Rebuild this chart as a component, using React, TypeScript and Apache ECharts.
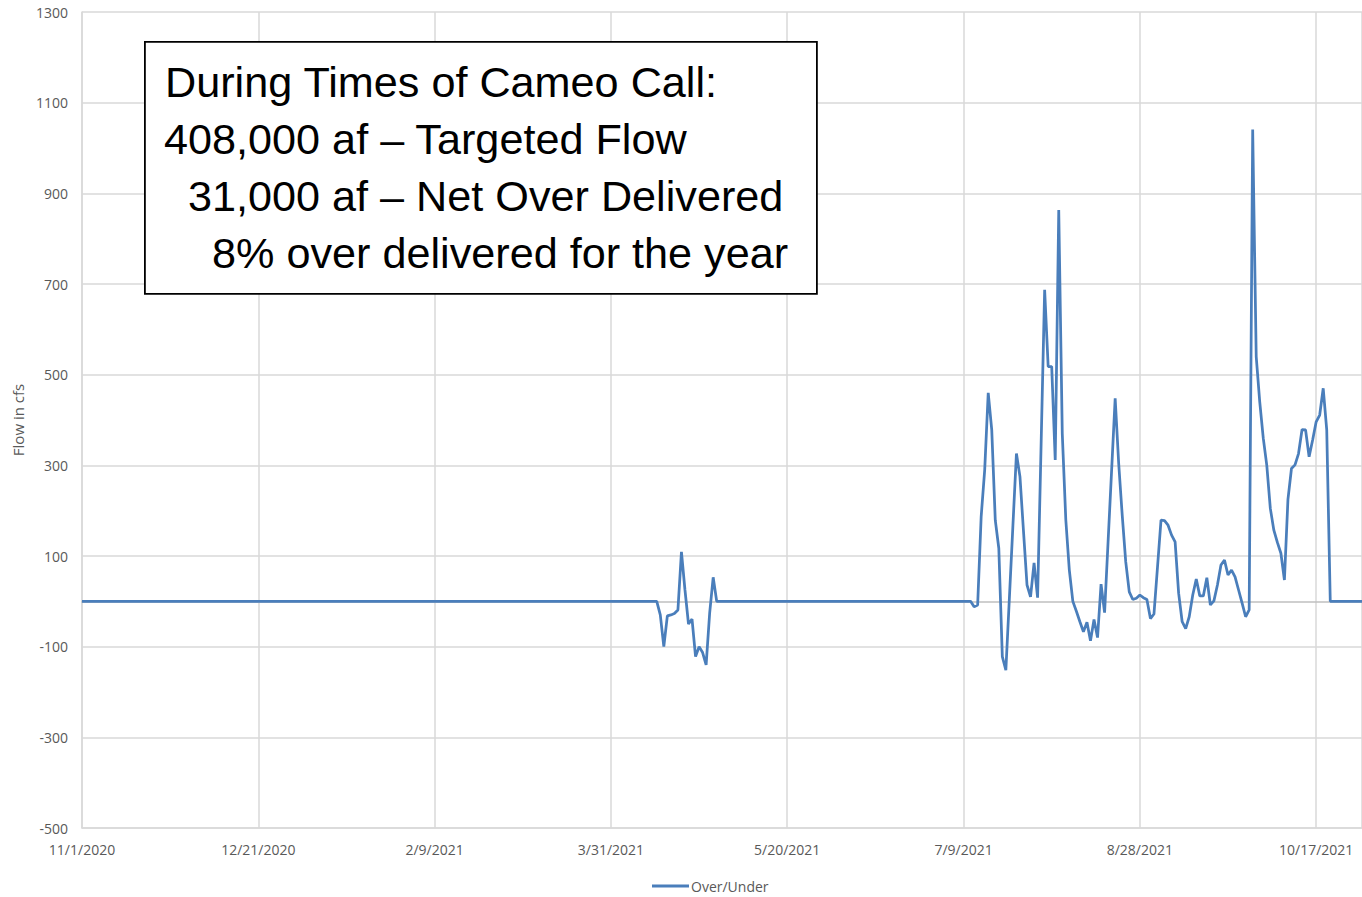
import React, { useEffect, useRef } from 'react';
import * as echarts from 'echarts';

// ---- Data ----
const START_DATE = '2020-11-01';
const END_DATE = '2021-10-30';
const X_TICK_STEP_DAYS = 50;
const Y_MIN = -500;
const Y_MAX = 1300;
const Y_STEP = 200;

const SERIES_NAME = 'Over/Under';
const Y_AXIS_NAME = 'Flow in cfs';

// daily values (cfs) from 2021-04-12
const SPRING_START = '2021-04-12';
const springValues = [
  0, 0, -30, -100, -32, -30, -27, -19, 109, 25, -50, -39, -122, -100, -113, -140, -26, 53, 0,
];

// daily values (cfs) from 2021-07-10
const SUMMER_START = '2021-07-10';
const summerValues = [
  0, 0, -12, -8, 187, 290, 460, 378, 179, 117,
  -122, -152, 7, 167, 326, 275, 155, 36, 10, 85,
  8, 347, 687, 518, 518, 312, 863, 370, 180, 69,
  0, -22, -45, -67, -46, -87, -40, -80, 38, -25,
  133, 290, 448, 304, 190, 87, 21, 4, 7, 14,
  8, 4, -38, -28, 75, 179, 178, 168, 146, 131,
  18, -45, -60, -34, 14, 49, 12, 12, 52, -8,
  1, 36, 80, 91, 58, 69, 54, 25, -4, -34,
  -19, 1041, 540, 440, 360, 300, 205, 157, 130, 106,
  47, 225, 293, 301, 326, 379, 378, 319, 356, 396,
  411, 470, 378, 0,
];

const NOTE_LINES = [
  'During Times of Cameo Call:',
  '408,000 af \u2013 Targeted Flow',
  '  31,000 af \u2013 Net Over Delivered',
  '    8% over delivered for the year',
];

// ---- helpers ----
const DAY_MS = 86400000;
const toUTC = (s: string) => {
  const [y, m, d] = s.split('-').map(Number);
  return Date.UTC(y, m - 1, d);
};
const startMs = toUTC(START_DATE);
const dayIndex = (s: string) => Math.round((toUTC(s) - startMs) / DAY_MS);
const fmtDay = (v: number) => {
  const dt = new Date(startMs + Math.round(v) * DAY_MS);
  return `${dt.getUTCMonth() + 1}/${dt.getUTCDate()}/${dt.getUTCFullYear()}`;
};

const endIdx = dayIndex(END_DATE);
const springIdx = dayIndex(SPRING_START);
const summerIdx = dayIndex(SUMMER_START);

const seriesData: [number, number][] = [
  [0, 0],
  ...springValues.map((v, i) => [springIdx + i, v] as [number, number]),
  ...summerValues.map((v, i) => [summerIdx + i, v] as [number, number]),
  [endIdx, 0],
];

const LABEL_COLOR = '#595959';
const GRID_COLOR = '#d9d9d9';
const LINE_COLOR = '#4a7ebb';
const FONT = '"Open Sans", "Liberation Sans", sans-serif';

export default function App() {
  const ref = useRef<HTMLDivElement>(null);

  useEffect(() => {
    if (!ref.current) return;
    const chart = echarts.init(ref.current, null, { renderer: 'svg' });
    const noteX = [165, 164, 164, 164];
    const noteY = [82, 139, 196, 253];
    chart.setOption({
      animation: false,
      backgroundColor: '#ffffff',
      grid: { left: 82, right: 0, top: 12, bottom: 69, containLabel: false },
      xAxis: [
        {
          type: 'value',
          min: 0,
          max: endIdx,
          interval: X_TICK_STEP_DAYS,
          axisLine: { show: true, onZero: false, lineStyle: { color: GRID_COLOR, width: 1.5 } },
          axisTick: { show: false },
          axisLabel: {
            color: LABEL_COLOR,
            fontSize: 14,
            fontFamily: FONT,
            margin: 14,
            formatter: (v: number) => fmtDay(v),
            showMaxLabel: false,
          },
          splitLine: { show: true, lineStyle: { color: GRID_COLOR, width: 1.5 } },
        },
        {
          type: 'value',
          min: 0,
          max: endIdx,
          position: 'bottom',
          axisLine: { show: true, onZero: true, lineStyle: { color: '#bfbfbf', width: 1.5 } },
          axisTick: { show: false },
          axisLabel: { show: false },
          splitLine: { show: false },
        },
      ],
      yAxis: {
        type: 'value',
        min: Y_MIN,
        max: Y_MAX,
        interval: Y_STEP,
        name: Y_AXIS_NAME,
        nameLocation: 'middle',
        nameGap: 55,
        nameTextStyle: { color: LABEL_COLOR, fontSize: 15, fontFamily: FONT },
        axisLine: { show: true, lineStyle: { color: GRID_COLOR, width: 1.5 } },
        axisTick: { show: false },
        axisLabel: {
          color: LABEL_COLOR,
          fontSize: 14,
          fontFamily: FONT,
          margin: 14,
          formatter: (v: number) => String(v),
        },
        splitLine: { show: true, lineStyle: { color: GRID_COLOR, width: 1.5 } },
      },
      legend: {
        data: [SERIES_NAME],
        left: 647,
        top: 874,
        icon: 'rect',
        itemWidth: 37,
        itemHeight: 3,
        itemGap: 4,
        textStyle: { color: LABEL_COLOR, fontSize: 14, fontFamily: FONT, padding: [0, 0, 0, -3] },
      },
      series: [
        {
          name: SERIES_NAME,
          type: 'line',
          xAxisIndex: 0,
          data: seriesData,
          symbol: 'none',
          showSymbol: false,
          lineStyle: { color: LINE_COLOR, width: 2.75 },
          itemStyle: { color: LINE_COLOR },
          z: 3,
        },
      ],
      graphic: [
        {
          type: 'rect',
          left: 144,
          top: 41,
          shape: { width: 672, height: 252 },
          style: { fill: '#ffffff', stroke: '#000000', lineWidth: 1.8 },
          z: 10,
        },
        ...NOTE_LINES.map((t, i) => ({
          type: 'text',
          x: noteX[i],
          y: noteY[i],
          z: 11,
          style: {
            text: t,
            fill: '#000000',
            fontSize: 43.2,
            fontFamily: '"Liberation Sans", Arial, sans-serif',
            align: 'left',
            verticalAlign: 'middle',
          },
        })),
      ],
    });
    return () => chart.dispose();
  }, []);

  return (
    <div
      ref={ref}
      style={{ position: 'absolute', left: 0, top: 0, width: 1362, height: 897 }}
    />
  );
}
